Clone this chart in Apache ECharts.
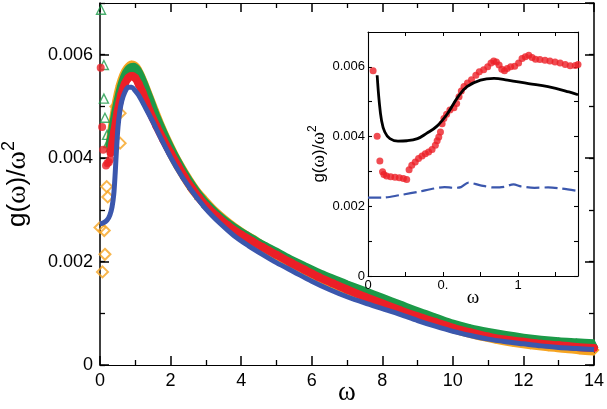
<!DOCTYPE html>
<html>
<head>
<meta charset="utf-8">
<script src="https://cdn.jsdelivr.net/npm/echarts@6/dist/echarts.min.js"></script>
<style>html,body{margin:0;padding:0;background:#fff}#c{width:607px;height:409px}</style>
</head>
<body>
<div id="c"></div>
<script>
// ---------- DATA (ω, g(ω)/ω²) ----------
const mainXTicks = [0, 2, 4, 6, 8, 10, 12, 14];
const mainYTickValues = [0, 0.002, 0.004, 0.006];
const mainYTickLabels = ['0', '0.002', '0.004', '0.006'];
const insetXTickValues = [0, 0.5, 1];
const insetXTickLabels = ['0', '0.', '1'];
const insetYTickValues = [0, 0.002, 0.004, 0.006];
const insetYTickLabels = ['0', '0.002', '0.004', '0.006'];

const orangeScatter = [[0.0,0.00266],[0.07,0.0018],[0.12,0.0026],[0.14,0.00214],[0.19,0.00345],[0.22,0.00325],[0.45,0.0050],[0.57,0.00487],[0.57,0.00429]];
const orangeBand = [[0.3,0.0042],[0.4,0.0047],[0.5,0.0051],[0.6,0.0054],[0.7,0.0056],[0.8,0.00572],[0.9,0.00578],[1.0,0.00574],[1.1,0.00562],[1.2,0.00546],[1.35,0.0052],[1.5,0.00494],[1.7,0.0046],[1.9,0.0043],[2.1,0.00402],[2.3,0.00378],[2.5,0.00356],[2.7,0.00336],[2.9,0.0032],[3.2,0.00298],[3.5,0.0028],[3.8,0.00264],[4.1,0.0025],[4.4,0.00238],[4.8,0.0022],[5.2,0.00206],[5.6,0.00191],[6.0,0.00177],[6.4,0.00164],[6.8,0.00152],[7.2,0.00141],[7.7,0.00128],[8.2,0.00115],[8.7,0.00103],[9.2,0.00091],[9.7,0.00079],[10.2,0.00068],[10.7,0.00059],[11.2,0.00052],[11.7,0.00046],[12.2,0.00041],[12.7,0.00037],[13.2,0.00034],[13.6,0.00031],[14.0,0.00029]];

const greenScatter = [[0.03,0.00687],[0.11,0.0058],[0.11,0.00515],[0.14,0.00478],[0.2,0.00445],[0.23,0.00429]];
const greenBand = [[0.28,0.0042],[0.35,0.0045],[0.45,0.0049],[0.55,0.00522],[0.65,0.00548],[0.75,0.00565],[0.85,0.00574],[0.95,0.00576],[1.05,0.0057],[1.15,0.00557],[1.3,0.00532],[1.45,0.00505],[1.6,0.00478],[1.8,0.00447],[2.0,0.00418],[2.2,0.00392],[2.4,0.00368],[2.6,0.00347],[2.8,0.00328],[3.0,0.00312],[3.3,0.00292],[3.6,0.00275],[4.0,0.00256],[4.3,0.00244],[4.6,0.00232],[5.0,0.00218],[5.4,0.00203],[5.8,0.0019],[6.2,0.00177],[6.6,0.00166],[7.0,0.00155],[7.5,0.00142],[8.0,0.00129],[8.5,0.00116],[9.0,0.00103],[9.5,0.00091],[10.0,0.00079],[10.5,0.0007],[11.0,0.00063],[11.5,0.00057],[12.0,0.00052],[12.5,0.00048],[13.0,0.00045],[13.5,0.00043],[14.0,0.00041]];

const redScatter = [[0.02,0.00575],[0.06,0.0046],[0.09,0.00416],[0.17,0.00386],[0.21,0.0039],[0.25,0.00392],[0.29,0.00398]];
const redBand = [[0.3,0.0041],[0.4,0.0045],[0.5,0.0049],[0.6,0.00522],[0.7,0.00543],[0.8,0.00555],[0.9,0.00559],[1.0,0.00555],[1.1,0.00543],[1.2,0.00528],[1.3,0.0051],[1.4,0.00492],[1.6,0.00462],[1.8,0.00435],[2.0,0.0041],[2.2,0.00386],[2.4,0.00363],[2.6,0.00342],[2.8,0.00324],[3.0,0.00308],[3.3,0.00288],[3.6,0.00271],[4.0,0.00252],[4.3,0.0024],[4.6,0.00228],[5.0,0.00213],[5.4,0.00198],[5.8,0.00184],[6.2,0.0017],[6.6,0.00158],[7.0,0.00146],[7.5,0.00132],[8.0,0.00119],[8.5,0.00106],[9.0,0.00094],[9.5,0.00083],[10.0,0.00072],[10.5,0.00063],[11.0,0.00055],[11.5,0.00049],[12.0,0.00045],[12.5,0.00041],[13.0,0.00038],[13.5,0.00035],[14.0,0.00033]];

const blueMain = [[0,0.00273],[0.1,0.00275],[0.2,0.0028],[0.28,0.0029],[0.34,0.00305],[0.39,0.0033],[0.43,0.0037],[0.47,0.0042],[0.51,0.0046],[0.56,0.0049],[0.62,0.00511],[0.7,0.00527],[0.8,0.00537],[0.9,0.00537],[1.0,0.0053],[1.1,0.00521],[1.3,0.00496],[1.5,0.0047],[1.7,0.00442],[2.0,0.00402],[2.3,0.00367],[2.6,0.00337],[3.0,0.00302],[3.4,0.00274],[3.8,0.0025],[4.2,0.00231],[4.6,0.00214],[5.0,0.00198],[5.5,0.0018],[6.0,0.00162],[6.5,0.00146],[7.0,0.00132],[7.5,0.0012],[8.0,0.00109],[8.5,0.00098],[9.0,0.00086],[9.5,0.00075],[10.0,0.00065],[10.5,0.00057],[11.0,0.0005],[11.5,0.00045],[12.0,0.00041],[12.5,0.00037],[13.0,0.00034],[13.5,0.00032],[14.0,0.0003]];

const insetRed = [[0.034,0.00589],[0.061,0.00401],[0.079,0.0033],[0.097,0.00299],[0.106,0.00291],[0.124,0.00287],[0.151,0.00285],[0.18,0.00283],[0.209,0.00282],[0.236,0.0028],[0.258,0.00277],[0.274,0.00305],[0.292,0.00318],[0.315,0.00327],[0.337,0.00337],[0.36,0.00344],[0.382,0.00351],[0.404,0.00356],[0.427,0.00363],[0.449,0.00375],[0.461,0.00388],[0.472,0.00399],[0.483,0.00413],[0.494,0.00437],[0.506,0.00452],[0.524,0.00464],[0.546,0.00476],[0.573,0.00483],[0.591,0.00495],[0.607,0.00514],[0.622,0.00531],[0.64,0.00544],[0.663,0.00554],[0.69,0.00563],[0.719,0.00576],[0.742,0.00586],[0.771,0.00592],[0.798,0.006],[0.82,0.00611],[0.838,0.00617],[0.856,0.00614],[0.874,0.00605],[0.892,0.00593],[0.91,0.00589],[0.928,0.00595],[0.951,0.006],[0.978,0.00602],[1.004,0.00611],[1.027,0.00624],[1.049,0.00629],[1.072,0.00633],[1.094,0.00627],[1.117,0.00622],[1.146,0.00621],[1.18,0.00619],[1.213,0.00617],[1.247,0.00614],[1.281,0.00611],[1.315,0.00607],[1.348,0.00603],[1.382,0.00604],[1.4,0.00607]];
const insetBlack = [[0.061,0.00576],[0.074,0.00504],[0.09,0.00447],[0.112,0.00413],[0.146,0.00394],[0.2,0.00387],[0.26,0.00388],[0.33,0.00394],[0.39,0.00409],[0.46,0.0043],[0.53,0.00466],[0.6,0.00514],[0.66,0.00543],[0.75,0.00562],[0.84,0.00567],[0.93,0.00562],[1.07,0.00552],[1.2,0.00543],[1.34,0.00528],[1.4,0.0052]];
const insetBlue = [[0,0.00225],[0.1,0.00225],[0.21,0.00232],[0.33,0.00241],[0.44,0.00251],[0.51,0.00255],[0.57,0.00253],[0.62,0.00255],[0.67,0.00268],[0.75,0.0026],[0.84,0.00254],[0.91,0.00256],[0.97,0.00263],[1.02,0.00257],[1.11,0.00253],[1.2,0.00254],[1.29,0.00251],[1.4,0.00244]];

// ---------- STYLE ----------
const FONT = 'Liberation Sans, Arial, Helvetica, sans-serif';
const SERIF = 'Liberation Serif, Times New Roman, serif';
const ORANGE = '#f6a420', GREEN = '#1c9a48', RED = '#ec1f27', BLUE = '#3b57ad';
const BLK = '#000';

function lookup(vals, labels) {
  return function (v) {
    for (let i = 0; i < vals.length; i++) if (Math.abs(vals[i] - v) < 1e-9) return labels[i];
    return '';
  };
}
function ax(extra, tickLen, lineW, showLine) {
  return Object.assign({
    type: 'value',
    splitLine: { show: false },
    axisLine: { show: showLine, onZero: false, lineStyle: { color: BLK, width: lineW } },
    axisTick: { show: true, inside: true, length: tickLen, lineStyle: { color: BLK, width: lineW } },
    axisLabel: { show: false }
  }, extra);
}
// x axes: no explicit position (first -> bottom, second -> top), minor ticks via minorTick
function xax(extra, tickLen, minorLen) {
  return Object.assign({
    type: 'value',
    splitLine: { show: false },
    axisLine: { show: true, onZero: false, lineStyle: { color: BLK } },
    axisTick: { show: true, inside: true, length: tickLen, lineStyle: { color: BLK, width: 1.5 } },
    minorTick: minorLen ? { show: true, splitNumber: 2, length: minorLen, lineStyle: { color: BLK, width: 1.3 } } : { show: false },
    axisLabel: { show: false }
  }, extra);
}

const yNameRich = function (big, small, lh) {
  return {
    t: { fontFamily: FONT, fontSize: big, color: BLK, lineHeight: lh },
    w: { fontFamily: SERIF, fontSize: big + 2, color: BLK, lineHeight: lh },
    s: { fontFamily: FONT, fontSize: small, color: BLK, verticalAlign: 'top', lineHeight: small }
  };
};

const MY = { min: 0, max: 0.007 };
const IY = { min: 0, max: 0.007 };

const option = {
  animation: false,
  backgroundColor: '#fff',
  grid: [
    { left: 100, top: 3, width: 494, height: 362, containLabel: false, outerBoundsMode: 'none' },
    { left: 368, top: 32, width: 210, height: 244, show: true, backgroundColor: '#fff', borderWidth: 0, z: 5, outerBoundsMode: 'none' }
  ],
  xAxis: [
    xax({ gridIndex: 0, min: 0, max: 14, interval: 2,
      axisLabel: { show: true, color: BLK, fontSize: 18, fontFamily: FONT, margin: 7,
        formatter: v => (mainXTicks.indexOf(v) >= 0 ? String(v) : '') },
      name: 'ω', nameLocation: 'middle', nameGap: 14, nameMoveOverlap: false,
      nameTextStyle: { fontFamily: SERIF, fontSize: 27, color: BLK } }, 9, 5),
    xax({ gridIndex: 0, min: 0, max: 14, interval: 2 }, 9, 5),
    xax({ gridIndex: 1, min: 0, max: 1.4, interval: 0.25, z: 6,
      axisTick: { show: true, inside: true, length: 4, lineStyle: { color: BLK, width: 1 } },
      axisLabel: { show: true, color: BLK, fontSize: 13, fontFamily: FONT, margin: 3, showMaxLabel: false,
        formatter: lookup(insetXTickValues, insetXTickLabels) },
      name: 'ω', nameLocation: 'middle', nameGap: 13, nameMoveOverlap: false,
      nameTextStyle: { fontFamily: SERIF, fontSize: 19, color: BLK } }, 4, 0),
    xax({ gridIndex: 1, min: 0, max: 1.4, interval: 0.25, z: 6,
      axisTick: { show: true, inside: true, length: 4, lineStyle: { color: BLK, width: 1 } } }, 4, 0)
  ],
  yAxis: [
    ax(Object.assign({ gridIndex: 0, position: 'left', interval: 0.002,
      axisLabel: { show: true, color: BLK, fontSize: 18, fontFamily: FONT, margin: 7, showMaxLabel: false,
        formatter: lookup(mainYTickValues, mainYTickLabels) },
      name: '{t|g(}{w|ω}{t|)/}{w|ω}{s|2}', nameLocation: 'middle', nameGap: 64, nameRotate: 90,
      nameTextStyle: { rich: yNameRich(26, 18, 36) } }, MY), 9, 1.5, true),
    ax(Object.assign({ gridIndex: 0, position: 'left', interval: 0.001 }, MY), 5, 1.3, false),
    ax(Object.assign({ gridIndex: 0, position: 'right', interval: 0.002 }, MY), 9, 1.5, true),
    ax(Object.assign({ gridIndex: 0, position: 'right', interval: 0.001 }, MY), 5, 1.3, false),
    ax(Object.assign({ gridIndex: 1, position: 'left', interval: 0.001, z: 6,
      axisLabel: { show: true, color: BLK, fontSize: 13, fontFamily: FONT, margin: 3, showMaxLabel: false,
        formatter: lookup(insetYTickValues, insetYTickLabels) },
      name: '{t|g(}{w|ω}{t|)/}{w|ω}{s|2}', nameLocation: 'middle', nameGap: 30, nameRotate: 90,
      nameTextStyle: { rich: yNameRich(17, 12, 24) } }, IY), 4, 1.1, true),
    ax(Object.assign({ gridIndex: 1, position: 'right', interval: 0.001, z: 6 }, IY), 4, 1.1, true)
  ],
  series: [
    { type: 'line', xAxisIndex: 0, yAxisIndex: 0, data: orangeBand, smooth: 0.3, z: 2,
      lineStyle: { color: ORANGE, width: 11 }, symbol: 'diamond', symbolSize: 9, showSymbol: true,
      itemStyle: { color: 'rgba(0,0,0,0)', borderColor: ORANGE, borderWidth: 1.6 } },
    { type: 'scatter', xAxisIndex: 0, yAxisIndex: 0, data: orangeScatter, z: 2,
      symbol: 'diamond', symbolSize: 11,
      itemStyle: { color: 'rgba(0,0,0,0)', borderColor: ORANGE, borderWidth: 2 } },
    { type: 'line', xAxisIndex: 0, yAxisIndex: 0, data: greenBand, smooth: 0.3, z: 3,
      lineStyle: { color: GREEN, width: 9 }, symbol: 'triangle', symbolSize: 8, showSymbol: true,
      itemStyle: { color: GREEN, borderColor: GREEN, borderWidth: 1 } },
    { type: 'scatter', xAxisIndex: 0, yAxisIndex: 0, data: greenScatter, z: 3,
      symbol: 'triangle', symbolSize: 9,
      itemStyle: { color: 'rgba(0,0,0,0)', borderColor: GREEN, borderWidth: 1.4 } },
    { type: 'line', xAxisIndex: 0, yAxisIndex: 0, data: redBand, smooth: 0.3, z: 4,
      lineStyle: { color: RED, width: 8 }, symbol: 'circle', symbolSize: 8, showSymbol: true,
      itemStyle: { color: RED } },
    { type: 'scatter', xAxisIndex: 0, yAxisIndex: 0, data: redScatter, z: 4,
      symbol: 'circle', symbolSize: 8, itemStyle: { color: RED } },
    { type: 'line', xAxisIndex: 0, yAxisIndex: 0, data: blueMain, smooth: 0.3, z: 4.5,
      lineStyle: { color: BLUE, width: 5 }, showSymbol: false, symbol: 'none' },

    { type: 'scatter', xAxisIndex: 2, yAxisIndex: 4, data: insetRed, z: 7,
      symbol: 'circle', symbolSize: 7, itemStyle: { color: RED } },
    { type: 'line', xAxisIndex: 2, yAxisIndex: 4, data: insetBlack, smooth: 0.4, z: 8,
      lineStyle: { color: BLK, width: 2.8 }, showSymbol: false, symbol: 'none' },
    { type: 'line', xAxisIndex: 2, yAxisIndex: 4, data: insetBlue, smooth: 0.3, z: 8,
      lineStyle: { color: BLUE, width: 2.2, type: [13, 5] }, showSymbol: false, symbol: 'none' }
  ]
};

const chart = echarts.init(document.getElementById('c'), null, { renderer: 'canvas' });
chart.setOption(option);
</script>
</body>
</html>
